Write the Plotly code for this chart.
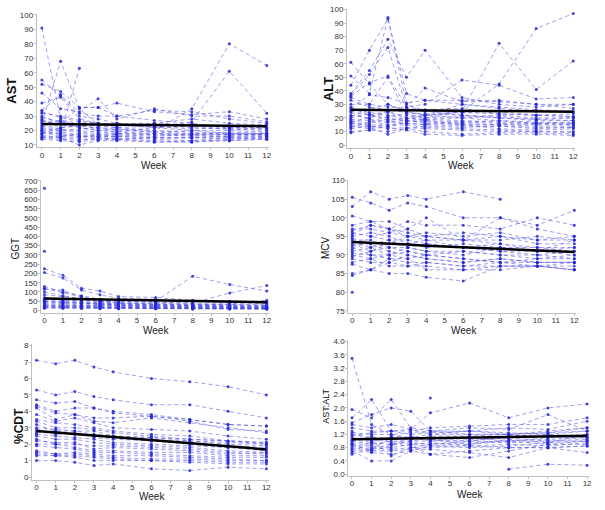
import plotly.graph_objects as go

weeks = [0, 1, 2, 3, 4, 6, 8, 10, 12]
N = None

ast_subjects = [
    [91, 28, 22, 20, 21, 19, 18, 17, 18],
    [25, 68, 35, 24, 22, 20, 19, 18, 17],
    [20, 18, 63, N, N, N, N, N, N],
    [55, 44, 30, 28, 25, 24, 22, 21, 20],
    [52, 47, 36, 36, 39, 33, 31, 33, 28],
    [46, 35, 33, 42, 28, 35, 30, 30, 26],
    [39, 43, 28, 25, 24, 22, 20, 18, 18],
    [34, 45, 32, 30, 30, 34, 33, 28, 25],
    [32, 30, 27, 25, 24, 25, 28, 25, 24],
    [30, 25, 36, 36, 30, 27, 25, 22, 22],
    [28, 22, 23, 22, 21, 20, 35, 80, 65],
    [27, 24, 22, 20, 19, 22, 26, 61, 32],
    [26, 27, 25, 24, 25, 22, 23, 21, 21],
    [24, 21, 20, 19, 18, 18, 17, 19, 18],
    [23, 20, 19, 18, 17, 17, 16, 17, 17],
    [22, 19, 17, 16, 16, 15, 15, 14, 15],
    [21, 20, 21, 22, 20, 19, 20, 20, 19],
    [20, 17, 16, 15, 16, 15, 15, 16, 16],
    [19, 16, 15, 17, 15, 14, 13, 15, 16],
    [18, 18, 16, 16, 17, 16, 17, 15, 15],
    [17, 15, 14, 14, 14, 13, 12, 13, 14],
    [16, 15, 10, 13, 13, 12, 13, 13, 14],
    [15, 14, 13, 15, 14, 15, 15, 16, 17],
    [15, 16, 18, 17, 18, 17, 18, 17, 18],
    [29, 26, 24, 23, 22, 23, 21, 22, 21],
    [33, 29, 26, 25, 23, 25, 24, 22, 22],
    [18, 22, 24, 21, 19, 18, 17, 18, 17],
    [14, 13, 12, 14, 14, 12, 12, 14, 15],
]
ast_mean = [24.5, 24.4, 24.2, 24.1, 24.0, 23.8, 23.5, 23.3, 23.0]

alt_subjects = [
    [61, 45, 30, 25, 22, 20, 18, 17, 16],
    [51, 38, 94, 30, 25, 22, 20, 18, 18],
    [44, 70, 93, 38, 33, 30, 28, 26, 25],
    [38, 55, 78, 50, 70, 35, 30, 28, 30],
    [37, 52, 72, 28, 30, 48, 44, 34, 35],
    [36, 46, 51, 28, 42, 32, 33, 30, 27],
    [30, 30, 50, 22, 20, 25, 75, 41, 62],
    [28, 22, 25, 20, 22, 25, 45, 86, 97],
    [27, 37, 35, 31, 33, 33, 32, 30, 30],
    [26, 24, 22, 19, 22, 24, 25, 22, 23],
    [25, 22, 20, 18, 17, 16, 15, 14, 14],
    [20, 23, 18, 20, 18, 17, 16, 15, 15],
    [19, 18, 15, 16, 15, 14, 14, 13, 13],
    [18, 16, 19, 18, 16, 15, 12, 11, 12],
    [17, 14, 12, 13, 12, 11, 10, 10, 10],
    [16, 15, 14, 15, 13, 12, 11, 10, 9],
    [15, 13, 8, 12, 10, 8, 9, 9, 8],
    [14, 12, 17, 16, 15, 17, 18, 16, 16],
    [13, 17, 21, 23, 20, 21, 22, 20, 20],
    [12, 14, 13, 11, 8, 7, 8, 8, 7],
    [10, 11, 10, 12, 14, 13, 14, 12, 13],
    [9, 11, 14, 17, 18, 15, 15, 16, 17],
    [22, 20, 25, 28, 26, 27, 23, 22, 21],
    [33, 28, 26, 24, 22, 30, 27, 25, 24],
    [21, 26, 30, 24, 23, 22, 20, 19, 18],
    [24, 19, 17, 18, 19, 20, 21, 19, 20],
    [35, 30, 28, 27, 25, 24, 23, 22, 21],
    [17, 20, 24, 20, 19, 18, 17, 16, 15],
]
alt_mean = [26.0, 25.9, 25.7, 25.6, 25.5, 25.2, 25.0, 24.8, 24.6]

ggt_subjects = [
    [660, N, N, N, N, N, N, N, N],
    [320, N, N, N, N, N, N, N, N],
    [225, 190, 120, 105, 75, 70, 55, 50, 45],
    [205, 175, 110, 85, 65, 60, 50, 45, 40],
    [130, 100, 80, 60, 55, 50, 185, 140, 105],
    [120, 95, 75, 55, 50, 45, 40, 95, 135],
    [115, 110, 70, 50, 40, 38, 35, 30, 30],
    [100, 80, 60, 50, 45, 55, 50, 45, 50],
    [85, 75, 65, 45, 40, 35, 30, 35, 55],
    [70, 60, 50, 40, 35, 30, 28, 25, 25],
    [60, 55, 45, 40, 38, 35, 32, 30, 30],
    [55, 50, 40, 35, 30, 28, 25, 22, 22],
    [50, 45, 38, 32, 30, 25, 22, 20, 20],
    [45, 40, 35, 30, 28, 25, 22, 20, 18],
    [40, 38, 30, 28, 25, 22, 20, 18, 17],
    [35, 30, 28, 25, 22, 20, 18, 16, 15],
    [30, 28, 25, 22, 20, 18, 16, 15, 14],
    [28, 25, 22, 20, 18, 16, 15, 14, 13],
    [25, 22, 20, 18, 16, 15, 14, 12, 12],
    [22, 20, 18, 16, 15, 14, 12, 11, 10],
    [20, 18, 16, 15, 14, 12, 11, 10, 10],
    [18, 16, 15, 14, 12, 11, 10, 9, 9],
    [15, 14, 13, 12, 11, 10, 9, 9, 8],
    [12, 12, 11, 10, 10, 9, 8, 8, 8],
    [65, 60, 55, 50, 45, 45, 40, 40, 38],
    [48, 42, 40, 35, 33, 30, 28, 27, 26],
]
ggt_mean = [65, 63, 61, 59, 57, 54, 51, 48, 45]

mcv_subjects = [
    [80, N, N, N, N, N, N, N, N],
    [103, 107, 105, 106, 105, 107, 105, N, N],
    [105.5, 104, 102, 104, 103, 100, 100, 98, 102],
    [100.5, 99, 97, 99, 98, 98, 97, 100, 98],
    [98, 99, 99, 97, 100, 94, 100, 97, 95],
    [97, 97, 96, 95, 95, 94, 94, 95, 94],
    [96.5, 98, 97, 96, 95, 96, 95, 93, 93],
    [96, 95, 94, 94, 93, 92, 93, 92, 92],
    [95, 96, 95, 93, 92, 93, 92, 91, 90],
    [94.5, 93, 94, 92, 93, 92, 91, 90, 91],
    [94, 94, 92, 92, 91, 91, 90, 89, 90],
    [93.5, 92, 93, 93, 94, 92, 91, 91, 92],
    [93, 91, 92, 91, 90, 91, 90, 90, 89],
    [92.5, 93, 91, 90, 89, 88, 89, 88, 88],
    [92, 90, 90, 89, 90, 89, 88, 89, 89],
    [91, 92, 90, 92, 91, 90, 92, 92, 91],
    [90.5, 90, 89, 88, 88, 87, 88, 88, 88],
    [90, 89, 90, 91, 90, 89, 88, 87, 87],
    [89, 88, 88, 87, 87, 86, 87, 87, 86],
    [88, 89, 87, 87, 88, 87, 87, 87, 88],
    [87.5, 86, 88, 90, 89, 88, 89, 88, 88],
    [85, 86, 85, 85, 84, 83, 87, 87, 86],
    [84.5, 86, 89, 89, 86, 86, 86, 87, 86],
    [91.5, 95, 96, 97, 95, 94, 93, 91, 94],
    [89.5, 91, 93, 95, 94, 94, 95, 94, 95],
    [95.5, 98, 97, 95, 96, 95, 96, 94, 94],
]
mcv_mean = [93.5, 93.3, 93.0, 92.8, 92.5, 92.1, 91.7, 91.2, 90.8]

cdt_subjects = [
    [7.1, 6.9, 7.1, 6.7, 6.4, 6.0, 5.8, 5.5, 5.0],
    [5.3, 5.0, 5.2, 4.9, 4.7, 4.4, 4.4, 4.0, 3.6],
    [4.7, 4.5, 4.6, 4.2, 4.0, 3.8, 3.5, 3.2, 3.1],
    [4.4, 4.0, 4.2, 4.2, 3.9, 3.7, 3.5, 3.2, 3.1],
    [4.3, 3.9, 3.8, 3.6, 3.6, 3.7, 3.4, 2.9, 2.8],
    [4.2, 3.5, 3.8, 3.4, 3.3, 3.6, 3.3, 3.0, 2.7],
    [3.8, 3.4, 3.6, 3.3, 3.0, 2.9, 2.8, 2.5, 2.3],
    [3.5, 3.3, 3.2, 3.0, 2.8, 2.6, 2.5, 2.2, 2.0],
    [3.4, 3.0, 3.0, 2.9, 2.7, 2.5, 2.3, 2.2, 2.1],
    [3.2, 2.8, 2.8, 2.6, 2.5, 2.4, 2.2, 2.0, 1.9],
    [2.9, 2.7, 2.6, 2.5, 2.4, 2.3, 2.1, 1.9, 1.8],
    [2.8, 2.6, 2.7, 2.4, 2.3, 2.2, 2.0, 1.8, 1.7],
    [2.6, 2.5, 2.4, 2.3, 2.1, 2.0, 1.9, 1.8, 1.6],
    [2.5, 2.3, 2.3, 2.1, 2.0, 1.9, 1.8, 1.6, 1.5],
    [2.3, 2.0, 2.0, 1.9, 1.9, 1.8, 1.7, 1.5, 1.4],
    [2.2, 2.1, 2.1, 1.7, 1.8, 1.7, 1.6, 1.4, 1.5],
    [2.0, 2.0, 1.8, 1.6, 1.6, 1.5, 1.5, 1.3, 1.3],
    [1.9, 1.8, 1.7, 1.5, 1.5, 1.4, 1.3, 1.2, 1.2],
    [1.6, 1.4, 1.5, 1.4, 1.3, 1.3, 1.2, 1.1, 1.0],
    [1.5, 1.4, 1.4, 1.3, 1.2, 1.1, 1.1, 1.0, 1.0],
    [1.4, 1.3, 1.3, 1.2, 1.1, 1.0, 1.0, 0.9, 0.9],
    [1.3, 1.3, 1.2, 1.0, 1.0, 1.0, 0.9, 0.8, 0.8],
    [1.0, 1.0, 0.9, 0.7, 0.8, 0.5, 0.4, 0.6, 0.5],
    [2.7, 2.8, 2.6, 2.5, 2.4, 2.2, 2.2, 2.1, 2.0],
    [3.0, 2.9, 2.8, 2.8, 2.5, 2.4, 2.3, 2.2, 2.1],
]
cdt_mean = [2.8, 2.72, 2.63, 2.53, 2.43, 2.24, 2.06, 1.87, 1.68]

ratio_subjects = [
    [3.5, 1.5, 1.2, 1.1, 1.0, 1.0, 1.1, 1.0, 1.0],
    [1.95, 1.7, 2.25, 1.4, 1.3, 1.2, 1.2, 1.3, 1.4],
    [1.7, 2.25, 1.3, 1.2, 1.25, 1.3, 1.2, 1.1, 1.1],
    [1.55, 1.8, 2.0, 1.9, 1.3, 1.4, 1.35, 1.8, 1.3],
    [1.5, 1.4, 1.5, 1.35, 1.85, 2.15, 1.7, 2.0, 2.12],
    [1.4, 1.3, 1.3, 1.3, 1.4, 1.45, 1.5, 1.5, 1.7],
    [N, N, N, N, 2.3, N, N, N, N],
    [1.25, 1.2, 1.2, 1.25, 1.3, 1.3, 1.25, 1.2, 1.3],
    [1.2, 1.1, 1.1, 1.1, 1.2, 1.2, 1.2, 1.25, 1.4],
    [1.1, 1.0, 1.05, 1.0, 1.0, 1.1, 1.0, 1.1, 1.2],
    [1.05, 0.95, 0.9, 1.0, 1.1, 1.05, 1.1, 1.15, 1.1],
    [1.0, 0.9, 1.0, 0.95, 0.9, 1.0, 0.95, 1.0, 1.05],
    [0.95, 0.85, 0.8, 0.9, 0.85, 0.9, 1.0, 0.9, 0.9],
    [0.9, 0.8, 0.75, 0.8, 0.8, 0.85, 0.9, 0.85, 0.95],
    [0.85, 0.75, 0.9, 0.85, 0.6, 0.7, 0.8, 0.8, 0.85],
    [0.8, 0.7, 0.7, 0.75, 0.75, 0.65, 0.5, 0.8, 0.65],
    [0.75, 0.65, 0.6, 0.7, 0.6, 0.5, 0.7, 0.9, 1.0],
    [0.7, 0.4, 0.4, 0.7, 0.85, 0.8, 0.85, 0.95, 1.0],
    [0.65, 1.0, 0.55, 0.8, 0.9, 0.95, 1.0, 1.05, 1.1],
    [0.6, 0.75, 1.1, 1.05, 1.15, 1.15, 1.2, 1.25, 1.3],
    [N, N, N, N, N, N, 0.15, 0.3, 0.27],
    [1.15, 1.25, 1.3, 1.35, 1.2, 1.3, 1.4, 1.35, 1.6],
    [1.3, 0.95, 1.15, 1.1, 1.05, 1.0, 1.15, 1.2, 1.15],
    [0.9, 0.7, 0.85, 1.15, 1.05, 0.9, 1.05, 0.95, 1.2],
    [1.0, 1.15, 0.95, 0.9, 0.95, 0.85, 0.8, 0.8, 0.85],
]
ratio_mean = [1.05, 1.06, 1.07, 1.08, 1.09, 1.11, 1.13, 1.14, 1.16]

x_ticks = list(range(0, 13))

W, H = 605, 510

def px_x(p):
    return p / W

def px_y(p):
    return 1 - p / H

panels = [
    dict(subj=ast_subjects, mean=ast_mean, title="AST", tfont=dict(size=13, weight="bold"),
         tpos=(12, 88), wpos=(155, 164),
         xd=(37, 270), yd=(10, 145), xr=(-0.27, 12.1), yr=(8.6, 100.7),
         ytv=list(range(10, 101, 10)), yfmt=None),
    dict(subj=alt_subjects, mean=alt_mean, title="ALT", tfont=dict(size=13, weight="bold"),
         tpos=(330, 86), wpos=(463, 164),
         xd=(348.7, 578), yd=(5, 146), xr=(-0.21, 12.1), yr=(-2.2, 100.4),
         ytv=list(range(0, 101, 10)), yfmt=None),
    dict(subj=ggt_subjects, mean=ggt_mean, title="GGT", tfont=dict(size=10),
         tpos=(16, 248), wpos=(157, 331),
         xd=(41.3, 270), yd=(178, 313), xr=(-0.18, 12.1), yr=(-12, 707),
         ytv=list(range(0, 701, 50)), yfmt=None),
    dict(subj=mcv_subjects, mean=mcv_mean, title="MCV", tfont=dict(size=10),
         tpos=(327, 247), wpos=(466, 331),
         xd=(350, 579), yd=(178, 313), xr=(-0.215, 12.1), yr=(74.47, 110.27),
         ytv=list(range(75, 111, 5)), yfmt=None),
    dict(subj=cdt_subjects, mean=cdt_mean, title="%CDT", tfont=dict(size=12, weight="bold"),
         tpos=(19, 428), wpos=(153, 499),
         xd=(32.3, 270), yd=(345, 482.3), xr=(-0.23, 12.12), yr=(-0.16, 8.08),
         ytv=list(range(0, 9)), yfmt=None),
    dict(subj=ratio_subjects, mean=ratio_mean, title="AST:ALT", tfont=dict(size=9),
         tpos=(328, 408), wpos=(472, 497),
         xd=(350, 592), yd=(341, 478.3), xr=(-0.19, 12.1), yr=(-0.048, 4.04),
         ytv=[round(0.4 * i, 1) for i in range(11)], yfmt=".1f"),
]

line_col = "rgba(70,70,230,0.58)"
mark_col = "rgba(40,40,210,0.85)"
axis_col = "#c0c0c0"
tick_font = dict(family="Liberation Sans, Arial", size=8, color="#333")

fig = go.Figure()
layout = dict(
    width=W, height=H, margin=dict(l=0, r=0, t=0, b=0),
    paper_bgcolor="white", plot_bgcolor="white", showlegend=False,
    font=dict(family="Liberation Sans, Arial"),
)
annotations = []

for i, p in enumerate(panels, start=1):
    xa = "x" if i == 1 else f"x{i}"
    ya = "y" if i == 1 else f"y{i}"
    for s in p["subj"]:
        fig.add_trace(go.Scatter(
            x=weeks, y=s, xaxis=xa, yaxis=ya, mode="lines+markers",
            connectgaps=False,
            line=dict(color=line_col, width=0.9, dash="4px,3px"),
            marker=dict(color=mark_col, size=3, symbol="circle"),
            hoverinfo="skip",
        ))
    fig.add_trace(go.Scatter(
        x=weeks, y=p["mean"], xaxis=xa, yaxis=ya, mode="lines",
        line=dict(color="black", width=2.5), hoverinfo="skip",
    ))
    xkey = "xaxis" if i == 1 else f"xaxis{i}"
    ykey = "yaxis" if i == 1 else f"yaxis{i}"
    layout[xkey] = dict(
        domain=[px_x(p["xd"][0]), px_x(p["xd"][1])], range=list(p["xr"]),
        anchor=ya, tickmode="array", tickvals=x_ticks, ticktext=[str(t) for t in x_ticks],
        showgrid=False, zeroline=False, showline=True, linecolor=axis_col, linewidth=1,
        ticks="outside", ticklen=2, tickcolor=axis_col, tickfont=tick_font,
        ticklabelstandoff=-2,
    )
    layout[ykey] = dict(
        domain=[px_y(p["yd"][1]), px_y(p["yd"][0])], range=list(p["yr"]),
        anchor=xa, tickmode="array", tickvals=p["ytv"],
        ticktext=[(f"{v:.1f}" if p["yfmt"] else str(v)) for v in p["ytv"]],
        showgrid=False, zeroline=False, showline=True, linecolor=axis_col, linewidth=1,
        ticks="outside", ticklen=2, tickcolor=axis_col, tickfont=tick_font,
        ticklabelstandoff=-1,
    )
    tf = dict(family="Liberation Sans, Arial", color="#111")
    tf.update(p["tfont"])
    annotations.append(dict(
        text=p["title"], xref="paper", yref="paper",
        x=px_x(p["tpos"][0]), y=px_y(p["tpos"][1]), xanchor="center", yanchor="middle",
        textangle=-90, showarrow=False, font=tf,
    ))
    annotations.append(dict(
        text="Week", xref="paper", yref="paper",
        x=px_x(p["wpos"][0]), y=px_y(p["wpos"][1]), xanchor="center", yanchor="middle",
        showarrow=False, font=dict(family="Liberation Sans, Arial", size=10, color="#222"),
    ))

layout["annotations"] = annotations
fig.update_layout(**layout)
fig.write_html(
    "out.html",
    config={"displayModeBar": False},
    post_script="document.body.style.margin='0';document.body.style.overflow='hidden';",
)
